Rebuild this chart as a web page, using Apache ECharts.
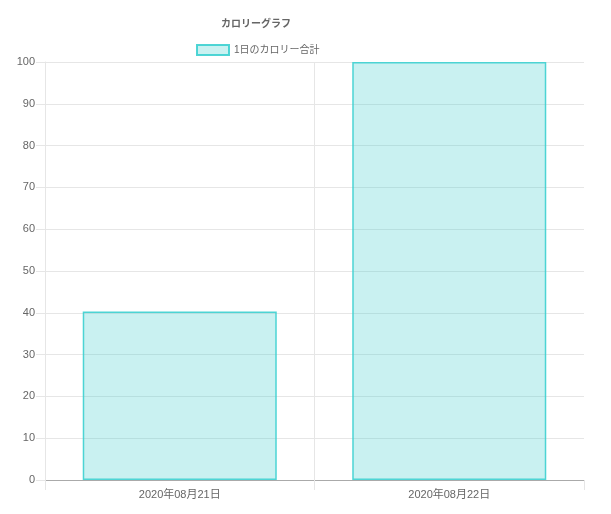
<!DOCTYPE html>
<html>
<head>
<meta charset="utf-8">
<title>カロリーグラフ</title>
<script src="https://cdn.jsdelivr.net/npm/echarts@6/dist/echarts.min.js"></script>
<style>
  html, body { margin: 0; padding: 0; background: #fff; }
  #chart { width: 611px; height: 514px; }
</style>
</head>
<body>
<div id="chart"></div>
<script>
// データ
var titleText = 'カロリーグラフ';
var seriesName = '1日のカロリー合計';
var dates = ['2020年08月21日', '2020年08月22日'];
var calories = [40.3, 100];
var yTicks = { min: 0, max: 100, step: 10 };

var FONT = '"Liberation Sans", "Noto Sans CJK JP", sans-serif';
var GRID_COLOR = '#e6e6e6';

var chart = echarts.init(document.getElementById('chart'));
var option = {
  animation: false,
  textStyle: { fontFamily: FONT },
  title: {
    text: titleText,
    left: 221,
    top: 19,
    padding: 0,
    textStyle: { fontSize: 10, fontWeight: 'bold', color: '#666', fontFamily: FONT }
  },
  legend: {
    top: 44,
    left: 196,
    padding: 0,
    itemWidth: 32,
    itemHeight: 10,
    itemGap: 6,
    icon: 'rect',
    textStyle: { fontSize: 10, color: '#666', fontFamily: FONT, padding: [0, 0, 0, 0] },
    data: [seriesName]
  },
  grid: { left: 45, right: 27, top: 62, bottom: 34, containLabel: false },
  xAxis: {
    type: 'category',
    data: dates,
    boundaryGap: true,
    axisLine: { show: true, lineStyle: { color: '#aaa', width: 1 } },
    axisTick: { show: true, length: 10, lineStyle: { color: GRID_COLOR } },
    axisLabel: { fontSize: 11, color: '#666', margin: 9, fontFamily: FONT },
    // 右端の縦線は描かない
    splitLine: { show: true, lineStyle: { color: [GRID_COLOR, GRID_COLOR, 'rgba(0,0,0,0)'] } }
  },
  yAxis: {
    type: 'value',
    min: yTicks.min,
    max: yTicks.max,
    interval: yTicks.step,
    axisLine: { show: true, lineStyle: { color: GRID_COLOR } },
    axisTick: { show: true, length: 9, lineStyle: { color: GRID_COLOR } },
    axisLabel: { fontSize: 11, color: '#666', margin: 10, fontFamily: FONT },
    splitLine: { show: true, lineStyle: { color: GRID_COLOR } }
  },
  series: [{
    name: seriesName,
    type: 'bar',
    data: calories,
    barCategoryGap: '28%',
    itemStyle: {
      color: 'rgba(75, 210, 210, 0.3)',
      borderColor: 'rgba(60, 208, 208, 0.9)',
      borderWidth: 1.5
    },
    emphasis: { disabled: true }
  }]
};
chart.setOption(option);
</script>
</body>
</html>
